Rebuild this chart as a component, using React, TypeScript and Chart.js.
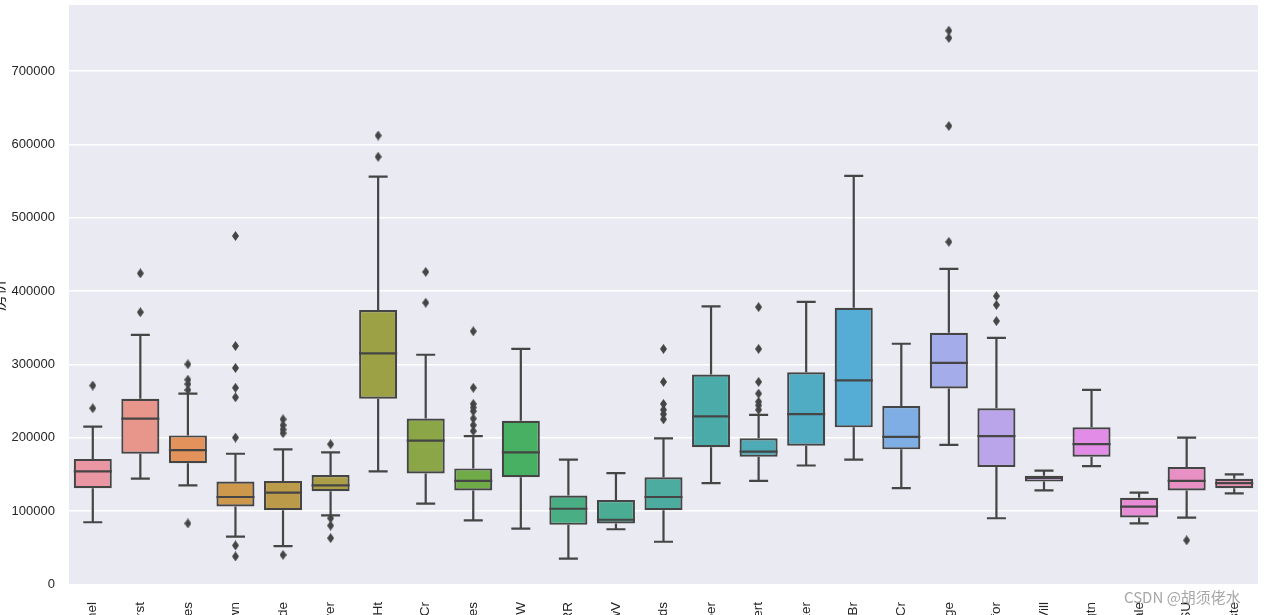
import React, { useEffect, useRef } from "react";
import { Chart, registerables } from "chart.js";

Chart.register(...registerables);

const categories = ["Mitchel", "Somerst", "NWAmes", "OldTown", "BrkSide", "Sawyer", "NridgHt", "CollgCr", "NAmes", "SawyerW", "IDOTRR", "MeadowV", "Edwards", "Timber", "Gilbert", "Veenker", "StoneBr", "ClearCr", "NoRidge", "Crawfor", "NPkVill", "Blmngtn", "BrDale", "SWISU", "Blueste"];

const whiskerLow = [84600, 144000, 135000, 65000, 52000, 94000, 154000, 110000, 87000, 76000, 35000, 75000, 58000, 138000, 141000, 162000, 170000, 131000, 190000, 90000, 128000, 161000, 83000, 91000, 124000];
const q1 = [131000, 178000, 165000, 106000, 101000, 127000, 253000, 151000, 128000, 146000, 81000, 83000, 101000, 187000, 174000, 189000, 214000, 184000, 267000, 160000, 140000, 174000, 91000, 128000, 131000];
const medians = [154000, 226000, 183000, 119000, 125000, 135000, 315000, 196000, 141000, 180000, 103000, 88000, 119000, 229000, 181000, 232000, 278000, 201000, 302000, 202000, 145000, 191000, 106000, 141000, 138000];
const q3 = [171000, 253000, 203000, 140000, 141000, 149000, 374000, 226000, 158000, 223000, 121000, 115000, 146000, 286000, 199000, 289000, 377000, 243000, 343000, 240000, 148000, 214000, 118000, 160000, 144000];
const whiskerHigh = [215000, 340000, 260000, 178000, 184000, 180000, 556000, 313000, 202000, 321000, 170000, 151500, 199000, 379000, 231000, 385000, 557000, 328000, 430000, 336000, 155000, 265000, 125000, 200000, 150000];
const outliers: number[][] = [
  [271000, 240000],
  [424000, 371000],
  [300000, 279000, 273000, 265000, 83000],
  [475000, 325000, 295000, 268000, 255000, 200000, 53000, 38000],
  [225000, 217000, 211000, 206000, 40000],
  [191000, 90000, 80000, 63000],
  [612000, 583000],
  [426000, 384000],
  [345000, 268000, 246000, 241000, 236000, 226000, 217000, 209000],
  [],
  [],
  [],
  [321000, 276000, 246000, 238000, 232000, 225000],
  [],
  [378000, 321000, 276000, 260000, 249000, 244000, 238000],
  [],
  [],
  [],
  [755000, 745000, 625000, 467000],
  [393000, 381000, 359000],
  [],
  [],
  [],
  [60000],
  [],
];
const yTicks = [0, 100000, 200000, 300000, 400000, 500000, 600000, 700000];
const yTitle = "房价";
const watermark = "CSDN @胡须佬水";

// ---- seaborn-like husl palette (style only) ----
const MM = [
  [3.2406, -1.5372, -0.4986],
  [-0.9689, 1.8758, 0.0415],
  [0.0557, -0.204, 1.057],
];
function maxChroma(L: number, H: number) {
  const hr = (H * Math.PI) / 180;
  const sinH = Math.sin(hr);
  const cosH = Math.cos(hr);
  const sub1 = Math.pow(L + 16, 3) / 1560896;
  const sub2 = sub1 > 0.008856 ? sub1 : L / 903.3;
  let result = Infinity;
  for (const [m1, m2, m3] of MM) {
    const top = (0.99915 * m1 + 1.05122 * m2 + 1.1446 * m3) * sub2;
    const rb = 0.8633 * m3 - 0.17266 * m2;
    const lb = 0.12949 * m3 - 0.38848 * m1;
    const bottom = (rb * sinH + lb * cosH) * sub2;
    for (const t of [0, 1]) {
      const C = (L * (top - 1.05122 * t)) / (bottom + 0.17266 * sinH * t);
      if (C > 0 && C < result) result = C;
    }
  }
  return result;
}
function fromLinear(c: number) {
  return c <= 0.0031308 ? 12.92 * c : 1.055 * Math.pow(c, 1 / 2.4) - 0.055;
}
function huslToRgb(H: number, S: number, L: number) {
  const C = (maxChroma(L, H) / 100) * S;
  const hr = (H * Math.PI) / 180;
  const U = Math.cos(hr) * C;
  const V = Math.sin(hr) * C;
  const t = (L + 16) / 116;
  const varY = Math.pow(t, 3) > 0.008856 ? Math.pow(t, 3) : (116 * t - 16) / 903.3;
  const varU = U / (13 * L) + 0.19784;
  const varV = V / (13 * L) + 0.46834;
  const Y = varY;
  const X = 0 - (9 * Y * varU) / ((varU - 4) * varV - varU * varV);
  const Z = (9 * Y - 15 * varV * Y - varV * X) / (3 * varV);
  return MM.map((r) => Math.min(1, Math.max(0, fromLinear(r[0] * X + r[1] * Y + r[2] * Z))));
}
function rgbToHls(r: number, g: number, b: number) {
  const maxc = Math.max(r, g, b);
  const minc = Math.min(r, g, b);
  const l = (minc + maxc) / 2;
  if (maxc === minc) return [0, l, 0];
  const s = l <= 0.5 ? (maxc - minc) / (maxc + minc) : (maxc - minc) / (2 - maxc - minc);
  const rc = (maxc - r) / (maxc - minc);
  const gc = (maxc - g) / (maxc - minc);
  const bc = (maxc - b) / (maxc - minc);
  let h;
  if (r === maxc) h = bc - gc;
  else if (g === maxc) h = 2 + rc - bc;
  else h = 4 + gc - rc;
  h = (((h / 6) % 1) + 1) % 1;
  return [h, l, s];
}
const n = categories.length;
const hlsList = categories.map((_, i) => {
  let h = i / n + 0.01;
  h = (h % 1) * 359;
  const [r, g, b] = huslToRgb(h, 0.9 * 99, 0.7 * 99);
  return rgbToHls(r, g, b);
});
const boxColors = hlsList.map(([h, l, s]) => `hsl(${(h * 360).toFixed(2)}, ${(s * 0.75 * 100).toFixed(2)}%, ${(l * 100).toFixed(2)}%)`);
const lum = Math.min(...hlsList.map((x) => x[1])) * 0.6;
const lumHex = Math.round(lum * 255).toString(16).padStart(2, "0");
const GRAY = `#${lumHex}${lumHex}${lumHex}`;

const OFF = 12;
const CW = 1276 + OFF;
const CH = 700;
const AREA_TOP = 5;
const AREA_BOTTOM = 585;

export default function App() {
  const ref = useRef<HTMLCanvasElement>(null);
  useEffect(() => {
    if (!ref.current) return;
    const diamond = document.createElement("canvas");
    diamond.width = 7;
    diamond.height = 10;
    const dctx = diamond.getContext("2d")!;
    dctx.fillStyle = GRAY;
    dctx.beginPath();
    dctx.moveTo(3.5, 0);
    dctx.lineTo(7, 5);
    dctx.lineTo(3.5, 10);
    dctx.lineTo(0, 5);
    dctx.closePath();
    dctx.fill();

    const outlierPoints: { x: string; y: number }[] = [];
    categories.forEach((c, i) => outliers[i].forEach((v) => outlierPoints.push({ x: c, y: v })));

    const bgPlugin = {
      id: "bgPlugin",
      beforeDraw(chart: any) {
        const { ctx, chartArea } = chart;
        ctx.save();
        ctx.fillStyle = "#ffffff";
        ctx.fillRect(0, 0, chart.width, chart.height);
        ctx.fillStyle = "#EAEAF2";
        ctx.fillRect(chartArea.left, chartArea.top, chartArea.right - chartArea.left, chartArea.bottom - chartArea.top);
        ctx.restore();
      },
    };

    const boxPlugin = {
      id: "boxPlugin",
      afterDatasetsDraw(chart: any) {
        const { ctx } = chart;
        const xs = chart.scales.x;
        const ys = chart.scales.y;
        const meta = chart.getDatasetMeta(0);
        ctx.save();
        ctx.strokeStyle = GRAY;
        ctx.lineWidth = 2.2;
        categories.forEach((_, i) => {
          const x = xs.getPixelForValue(i);
          const w = meta.data[i].width;
          const yL = ys.getPixelForValue(whiskerLow[i]);
          const yH = ys.getPixelForValue(whiskerHigh[i]);
          const y1 = ys.getPixelForValue(q1[i]);
          const y3 = ys.getPixelForValue(q3[i]);
          const ym = ys.getPixelForValue(medians[i]);
          ctx.beginPath();
          ctx.moveTo(x, y1);
          ctx.lineTo(x, yL);
          ctx.moveTo(x, y3);
          ctx.lineTo(x, yH);
          ctx.moveTo(x - w / 4, yL);
          ctx.lineTo(x + w / 4, yL);
          ctx.moveTo(x - w / 4, yH);
          ctx.lineTo(x + w / 4, yH);
          ctx.moveTo(x - w / 2, ym);
          ctx.lineTo(x + w / 2, ym);
          ctx.stroke();
        });
        ctx.restore();
      },
      afterDraw(chart: any) {
        const { ctx } = chart;
        ctx.save();
        ctx.font = '15px "Noto Sans CJK SC", "Liberation Sans", sans-serif';
        ctx.fillStyle = "rgba(150,150,150,0.85)";
        ctx.textBaseline = "middle";
        ctx.textAlign = "left";
        ctx.fillText(watermark, 1124 + OFF, 597);
        ctx.restore();
      },
    };

    const zeroPad = (scale: any) => {
      scale.paddingTop = 0;
      scale.paddingBottom = 0;
      scale.paddingLeft = 0;
      scale.paddingRight = 0;
    };

    const chart = new Chart(ref.current, {
      type: "bar",
      data: {
        labels: categories,
        datasets: [
          {
            type: "bar",
            data: categories.map((_, i) => [q1[i], q3[i]]) as any,
            backgroundColor: boxColors,
            borderColor: GRAY,
            borderWidth: 2.2,
            borderSkipped: false,
            barPercentage: 0.8,
            categoryPercentage: 1.0,
          } as any,
          {
            type: "line",
            data: outlierPoints as any,
            showLine: false,
            pointStyle: diamond as any,
            pointRadius: 4,
            pointHoverRadius: 4,
          } as any,
        ],
      },
      options: {
        responsive: false,
        animation: false,
        devicePixelRatio: 1,
        layout: { padding: { left: 0, top: AREA_TOP, right: 18, bottom: 0 } },
        plugins: { legend: { display: false }, tooltip: { enabled: false } },
        events: [],
        scales: {
          x: {
            type: "category",
            grid: { display: false },
            border: { display: false },
            ticks: {
              minRotation: 90,
              maxRotation: 90,
              autoSkip: false,
              padding: 9,
              color: "#262626",
              font: { family: '"Liberation Sans", Arial, sans-serif', size: 13.5 },
            },
            afterFit(scale: any) {
              scale.height = CH - AREA_BOTTOM;
              zeroPad(scale);
            },
          },
          y: {
            min: -1000,
            max: 790000,
            grid: { color: "#ffffff", lineWidth: 1.4, drawTicks: false },
            border: { display: false },
            ticks: {
              padding: 14,
              color: "#262626",
              font: { family: '"Liberation Sans", Arial, sans-serif', size: 13 },
              callback: (v: any) => String(v),
            },
            afterBuildTicks(scale: any) {
              scale.ticks = yTicks.map((v) => ({ value: v }));
            },
            afterFit(scale: any) {
              scale.width = 69 + OFF;
              zeroPad(scale);
            },
            title: {
              display: true,
              text: yTitle,
              color: "#262626",
              padding: 0,
              font: { family: '"Noto Sans CJK SC", sans-serif', size: 16 },
            },
          },
        },
      } as any,
      plugins: [bgPlugin, boxPlugin],
    });
    return () => chart.destroy();
  }, []);
  return (
    <div style={{ position: "fixed", left: 0, top: 0, width: 1276, height: 615, overflow: "hidden", background: "#fff" }}>
      <canvas ref={ref} width={CW} height={CH} style={{ position: "absolute", left: -OFF, top: 0, width: CW, height: CH }} />
    </div>
  );
}
